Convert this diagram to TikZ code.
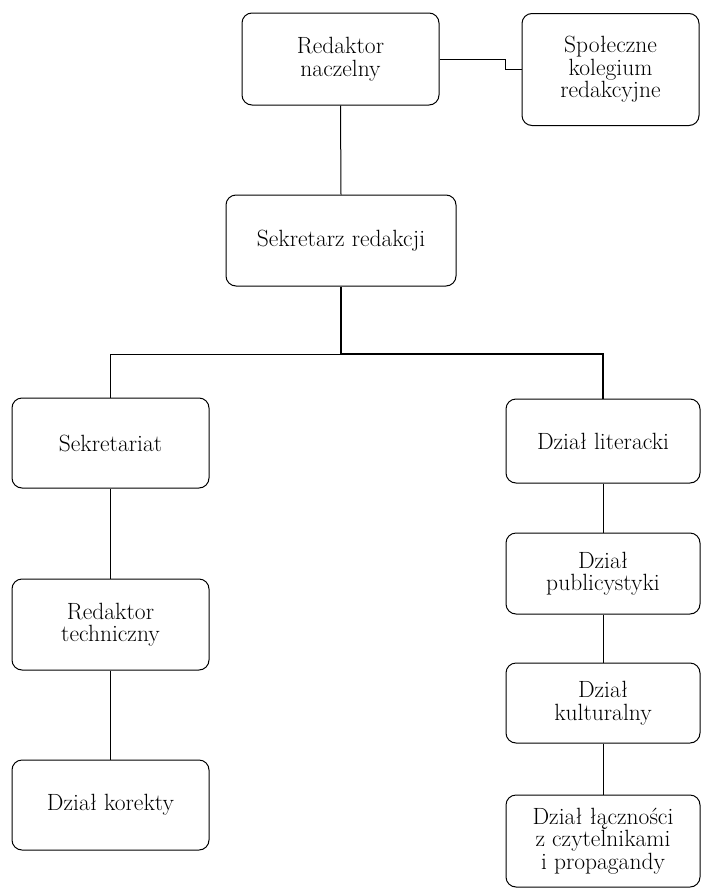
\documentclass[tikz,border=0pt]{standalone}
\usepackage{fontspec}
\tikzset{
  unit/.style={draw, rounded corners=10pt, align=center, inner sep=2pt,
    font=\fontsize{23.5}{22.5}\selectfont, line width=1pt},
  link/.style={line width=1pt},
  mainlink/.style={line width=1.9pt}
}
\begin{document}
\begin{tikzpicture}[x=1pt,y=1pt]
          \useasboundingbox (0,0) rectangle (701,-889); % Page size

          \node [unit, minimum width=197, minimum height=92] (naczelny) at (340.5,-59) {Redaktor\\naczelny}; % Top box
          \node [unit, minimum width=177, minimum height=112] (kolegium) at (610.5,-69.5) {Społeczne\\kolegium\\redakcyjne}; % Side box
          \node [unit, minimum width=230, minimum height=91] (sekretarz) at (341,-240.5) {Sekretarz redakcji}; % Second level

          \node [unit, minimum width=197, minimum height=90] (sekretariat) at (110.5,-443) {Sekretariat}; % Left column
          \node [unit, minimum width=197, minimum height=91] (techniczny) at (110.5,-624.5) {Redaktor\\techniczny};
          \node [unit, minimum width=197, minimum height=90] (korekty) at (110.5,-805) {Dział korekty};

          \node [unit, minimum width=194, minimum height=84] (literacki) at (603,-441) {Dział literacki}; % Right column
          \node [unit, minimum width=194, minimum height=81] (publicystyki) at (603,-573.5) {Dział\\publicystyki};
          \node [unit, minimum width=194, minimum height=80] (kulturalny) at (603,-703) {Dział\\kulturalny};
          \node [unit, minimum width=194, minimum height=92] (lacznosci) at (603,-841) {Dział łączności\\z czytelnikami\\i propagandy};

          \coordinate (kink) at (505,-59);
          \coordinate (fork) at (341,-354);

          \draw [link] (naczelny.east) -- (kink) |- (kolegium.west);
          \draw [link] (naczelny.south) -- (sekretarz.north);

          \draw [mainlink] (sekretarz.south) -- (fork) -| (literacki.north);
          \draw [link] (fork) -| (sekretariat.north);

          \draw [link] (sekretariat.south) -- (techniczny.north);
          \draw [link] (techniczny.south) -- (korekty.north);

          \draw [link] (literacki.south) -- (publicystyki.north);
          \draw [link] (publicystyki.south) -- (kulturalny.north);
          \draw [link] (kulturalny.south) -- (lacznosci.north);
        \end{tikzpicture}
\end{document}
